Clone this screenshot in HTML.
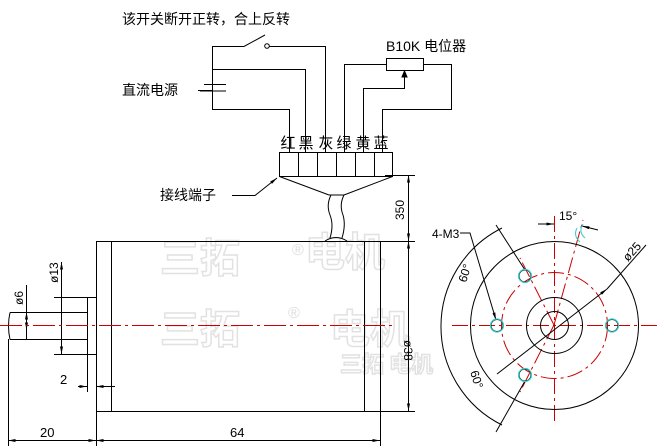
<!DOCTYPE html>
<html><head><meta charset="utf-8"><style>
html,body{margin:0;padding:0;background:#fff;width:664px;height:448px;overflow:hidden}
svg{display:block}
text{font-family:"Liberation Sans","Noto Sans CJK SC",sans-serif;fill:#000}
.wm{font-family:"Noto Sans CJK SC",sans-serif;fill:none;stroke:#e2e2e2;stroke-width:1.5;font-weight:bold}
</style></head><body>
<svg width="664" height="448" viewBox="0 0 664 448" xmlns="http://www.w3.org/2000/svg">
<defs>
<marker id="a" viewBox="0 0 10 4" refX="10" refY="2" markerWidth="8" markerHeight="3" orient="auto-start-reverse"><path d="M0,0L10,2L0,4z" fill="#000"/></marker>
</defs>
<text class="wm" x="160" y="272" font-size="40">三拓</text>
<text class="wm" x="305" y="266" font-size="40">电机</text>
<text class="wm" x="160" y="343" font-size="40">三拓</text>
<text class="wm" x="330" y="343" font-size="40">电机</text>
<text class="wm" x="340" y="372" font-size="22">三拓 电机</text>
<text x="292" y="255" font-size="16" style="fill:#ddd">®</text>
<text x="288" y="318" font-size="16" style="fill:#ddd">®</text>

<g fill="none" stroke="#000" stroke-width="1">
<rect x="96.5" y="241.5" width="284" height="170"/>
<line x1="111.5" y1="241" x2="111.5" y2="411"/>
<line x1="364.5" y1="241" x2="364.5" y2="411"/>
<rect x="87.5" y="297.5" width="9" height="57"/>
<path d="M87.5,354 V392"/>
<path d="M10,312.5 H87 M10,339.5 H87 M10,312.5 Q7,326 10,339.5"/>
<path d="M54,297.5 H87 M54,354.5 H87"/>
<line x1="61.5" y1="262" x2="61.5" y2="354" marker-start="url(#a)" marker-end="url(#a)"/>
<line x1="26.5" y1="285" x2="26.5" y2="339" />
<line x1="26.5" y1="312" x2="26.5" y2="330" marker-start="url(#a)" marker-end="url(#a)"/>
<line x1="78" y1="386.5" x2="87" y2="386.5" marker-end="url(#a)"/>
<line x1="115" y1="386.5" x2="96" y2="386.5" marker-end="url(#a)"/>
<path d="M8.5,339 V446 M96.5,412 V446 M380.5,412 V446"/>
<line x1="8" y1="440.5" x2="96" y2="440.5" marker-start="url(#a)" marker-end="url(#a)"/>
<line x1="96" y1="440.5" x2="380" y2="440.5" marker-start="url(#a)" marker-end="url(#a)"/>
<path d="M385,175.5 H415 M380,241.5 H415 M380,411.5 H415"/>
<line x1="408.5" y1="175" x2="408.5" y2="241" marker-start="url(#a)" marker-end="url(#a)"/>
<line x1="408.5" y1="241" x2="408.5" y2="411" marker-start="url(#a)" marker-end="url(#a)"/>
<rect x="279.5" y="152.5" width="113" height="24"/>
<path d="M298.5,152V176 M317.5,152V176 M336.5,152V176 M355.5,152V176 M374.5,152V176"/>
<path d="M279.5,176.5 L329,195 M392.5,176.5 L344,195 M329,195 H344"/>
<path d="M331,195 Q326,205 330,215 Q334,225 330,238 M344,195 Q339,205 343,215 Q346,225 342,238"/>
<path d="M325,241 Q336,234 347,241"/>
<path d="M289.5,152 V109.5 H212.5 V46.5 H244 L265,35"/>
<circle cx="267" cy="46" r="2.3"/>
<path d="M269,46.5 H325.5 V152"/>
<path d="M212.5,69.5 H305.5 V152"/>
<path d="M198,90.5 H212 M204,84.5 H226 M200,91 H226" />
<path d="M344.5,152 V64.5 H386"/>
<rect x="386.5" y="58.5" width="37" height="12"/>
<path d="M423,64.5 H451.5 V109.5 H382.5 V152"/>
<path d="M363.5,152 V88.5 H404.5 V72"/>
<path d="M402,77 L404.5,71 L407,77z" fill="#000"/>
<path d="M232,195.5 H255 L277,178" marker-end="url(#a)"/>
</g>
<line x1="0" y1="325.5" x2="392" y2="325.5" stroke="#c00" stroke-width="1" stroke-dasharray="22,4,3,4"/>

<g fill="none" stroke="#c00" stroke-width="1" stroke-dasharray="16,4,3,4">
<line x1="452" y1="325.5" x2="660" y2="325.5"/>
<line x1="554.5" y1="216" x2="554.5" y2="425"/>
<circle cx="554.5" cy="325.5" r="53"/>
<line x1="554" y1="325" x2="583" y2="220"/>
<line x1="554" y1="325" x2="520" y2="258"/>
<line x1="554" y1="325" x2="520" y2="392"/>
</g>
<g fill="none" stroke="#000" stroke-width="1">
<circle cx="554.5" cy="325.5" r="84"/>
<circle cx="554.5" cy="325.5" r="28"/>
<circle cx="554.5" cy="325.5" r="14"/>
<circle cx="497" cy="325.5" r="6"/>
<circle cx="612" cy="325.5" r="6"/>
<circle cx="525" cy="276" r="6"/>
<circle cx="525" cy="375" r="6"/>
<path d="M502,228 A110,110 0 0 0 502,425"/>
<line x1="525" y1="270" x2="496" y2="225"/>
<line x1="525" y1="381" x2="496" y2="432"/>
<path d="M460,233 H470 L496,320" marker-end="url(#a)"/>
<line x1="497" y1="374" x2="607" y2="289" marker-end="url(#a)"/>
<line x1="607" y1="289" x2="646" y2="245"/>
<line x1="538" y1="224" x2="554" y2="224" marker-end="url(#a)"/>
<line x1="598" y1="230" x2="582" y2="226" marker-end="url(#a)"/>
</g>
<path d="M577,228 Q573,236 580,242 M583,224 Q578,232 585,238" stroke="#3cc" fill="none"/>
<g fill="none" stroke="#3cc" stroke-width="1.2">
<circle cx="497" cy="325.5" r="6.5"/><circle cx="612" cy="325.5" r="6.5"/>
<circle cx="525" cy="276" r="6.5"/><circle cx="525" cy="375" r="6.5"/>
</g>

<text x="122" y="24" font-size="14">该开关断开正转，合上反转</text>
<text x="386" y="51" font-size="14">B10K 电位器</text>
<text x="122" y="95" font-size="14">直流电源</text>
<g font-size="15" text-anchor="middle">
<text x="288" y="148">红</text><text x="306" y="148">黑</text>
<text x="326" y="148">灰</text><text x="344" y="148">绿</text>
<text x="363" y="148">黄</text><text x="381" y="148">蓝</text>
</g>
<text x="160" y="200" font-size="14">接线端子</text>
<text x="40" y="437" font-size="13">20</text>
<text x="230" y="437" font-size="13">64</text>
<text x="60" y="384" font-size="13">2</text>
<text x="432" y="238" font-size="12">4-M3</text>
<text x="559" y="220" font-size="12">15°</text>
<text transform="translate(23,305) rotate(-90)" font-size="12">ø6</text>
<text transform="translate(58,283) rotate(-90)" font-size="12">ø13</text>
<text transform="translate(404,220) rotate(-90)" font-size="12">350</text>
<text transform="translate(404,340) rotate(90)" font-size="12">ø38</text>
<text transform="translate(628,262) rotate(-48)" font-size="12">ø25</text>
<text transform="translate(466,283) rotate(-72)" font-size="12">60°</text>
<text transform="translate(470,372) rotate(72)" font-size="12">60°</text>
</svg>
</body></html>
